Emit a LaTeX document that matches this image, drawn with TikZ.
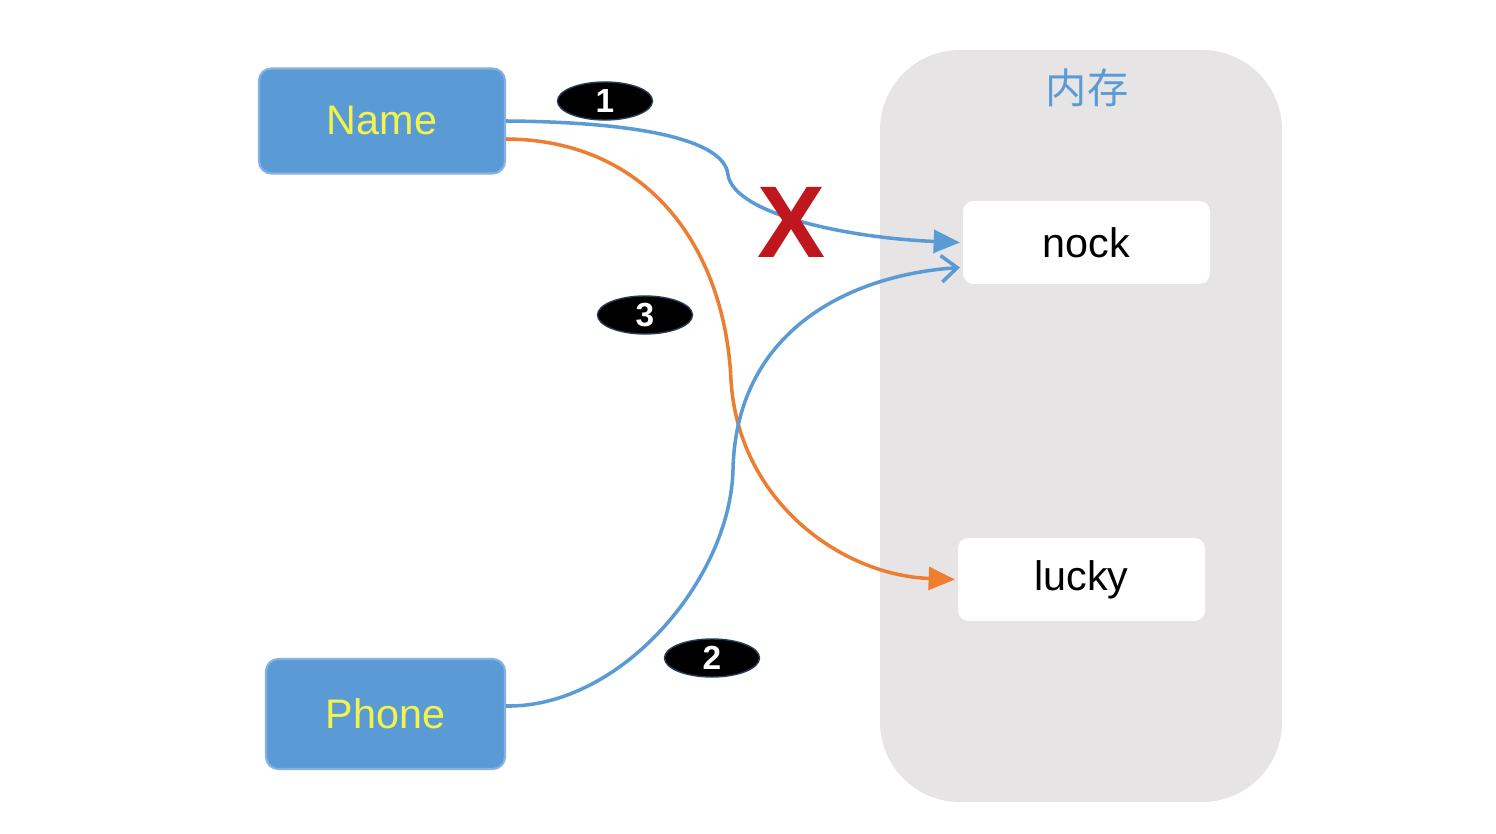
\documentclass[tikz,border=0pt]{standalone}
\usepackage{fontspec}
\setmainfont{Liberation Sans}
\newfontfamily\cjk{Noto Sans CJK SC}
\usetikzlibrary{arrows.meta,shapes.geometric}
\definecolor{boxblue}{HTML}{5B9BD5}
\definecolor{boxline}{HTML}{86B2E2}
\definecolor{nameyel}{HTML}{F2F44C}
\definecolor{memgray}{HTML}{E6E4E5}
\definecolor{linkorange}{HTML}{ED7D31}
\definecolor{crossred}{HTML}{C0161D}
\begin{document}
\begin{tikzpicture}[>={Triangle[length=15pt,width=13pt]},
  var/.style={rectangle,rounded corners=7pt,fill=boxblue,draw=boxline,line width=1.2pt,
    text=nameyel,font=\fontsize{23.5}{28}\selectfont,minimum height=2.1cm},
  cell/.style={rectangle,rounded corners=6pt,fill=white,minimum width=4.94cm,
    minimum height=1.66cm,font=\fontsize{23.5}{28}\selectfont},
  badge/.style={ellipse,fill=black,draw=black!60!boxblue,line width=0.8pt,inner sep=0pt,
    minimum width=1.9cm,minimum height=0.76cm,text=white,font=\fontsize{19}{22}\selectfont\bfseries},
  link/.style={line width=2pt,boxblue}]
\useasboundingbox[fill=white] (0,0) rectangle (29.92,16.68);
% memory panel
\fill[memgray,rounded corners=1.6cm] (17.6,0.64) rectangle (25.64,15.68);
\node[text=boxblue,font=\cjk\fontsize{23.5}{28}\selectfont] (mem) at (21.74,14.92) {内存};
\node[cell] (nock) at (21.73,11.83) {nock};
\node[cell] (lucky) at (21.63,5.09) {lucky};
% variables
\node[var,minimum width=4.92cm] (name) at (7.64,14.26) {Name};
\node[var,minimum width=4.78cm,minimum height=2.2cm] (phone) at (7.71,2.4) {Phone};
% links
\draw[link,->] (name.east) .. controls (12.8,14.24) and (14.5,13.88) .. (14.56,13.18)
  .. controls (14.7,12.38) and (17.0,11.92) .. ([xshift=-1.5pt]nock.west);
\draw[link,linkorange,->] ([yshift=-3.6mm]name.east) .. controls (13.0,13.88) and (14.5,11.68) .. (14.62,9.08)
  .. controls (14.76,6.68) and (16.8,5.18) .. ([xshift=-1.5pt]lucky.west);
\draw[link,-{Straight Barb[length=9pt,width=15pt,line width=2pt]}] ([yshift=1.6mm]phone.east)
  .. controls (12.4,2.52) and (14.6,5.08) .. (14.66,7.28)
  .. controls (14.72,10.08) and (17.0,11.18) .. ([xshift=-1.5pt,yshift=-5mm]nock.west);
% steps
\node[badge] (s1) at (12.1,14.66) {1};
\node[badge] (s3) at (12.9,10.38) {3};
\node[badge] (s2) at (14.24,3.52) {2};
\node[text=crossred,font=\fontsize{58}{60}\selectfont\bfseries] (cross) at (15.82,12.24) {X};
\end{tikzpicture}
\end{document}
